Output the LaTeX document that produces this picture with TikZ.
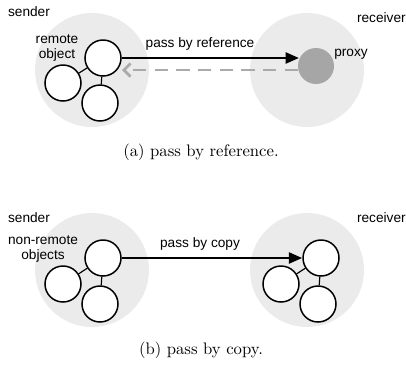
\documentclass[tikz,border=0pt]{standalone}
\usepackage{fontspec}
\newfontfamily\lab{Liberation Sans}
\usetikzlibrary{arrows.meta}
\definecolor{bggray}{HTML}{EBEBEB}
\definecolor{proxygray}{HTML}{A6A6A6}
\definecolor{dashgray}{HTML}{AAAAAA}
\begin{document}
\begin{tikzpicture}[x=0.6pt,y=-0.6pt,
  host/.style={circle,fill=bggray,minimum size=68.4pt,inner sep=0pt},
  obj/.style={circle,draw=black,fill=white,line width=0.9pt,minimum size=21.6pt,inner sep=0pt},
  prx/.style={circle,fill=proxygray,minimum size=21.6pt,inner sep=0pt},
  lbl/.style={font=\lab\fontsize{8.2}{9.5}\selectfont,inner sep=0pt,align=center},
  captext/.style={font=\fontsize{10}{12}\selectfont,inner sep=0pt},
  link/.style={line width=0.7pt},
  pass/.style={line width=1.6pt,-{Triangle[length=8pt,width=6.5pt]}},
  back/.style={dashgray,line width=1.6pt,dash pattern=on 8pt off 5pt,-{Straight Barb[length=4pt,width=8pt]}}]
\useasboundingbox (0,0) rectangle (406,364);
% (a)
\node[host] (sa) at (92,70) {};
\node[host] (ra) at (307,70) {};
\node[lbl] (senda) at (29,12) {sender};
\node[lbl,anchor=east] (recva) at (406,18) {receiver};
\node[obj] (a1) at (103,58) {};
\node[obj] (a2) at (63,83) {};
\node[obj] (a3) at (100,103) {};
\draw[link] (a1) -- (a2);
\draw[link] (a1) -- (a3);
\node[prx] (px) at (316,66) {};
\node[lbl] (remote) at (57,48) {remote\\object};
\node[lbl] (proxyl) at (351,54) {proxy};
\node[lbl] (pbr) at (200,44) {pass by reference};
\coordinate (pxin) at (299,58);
\draw[pass] (a1.east) -- (pxin);
\coordinate (dstart) at (298,70);
\coordinate (dend) at (122,70);
\draw[back] (dstart) -- (dend);
\node[captext] (capa) at (201,152) {(a) pass by reference.};
% (b)
\node[host] (sb) at (92,270) {};
\node[host] (rb) at (307,270) {};
\node[lbl] (sendb) at (29,218) {sender};
\node[lbl,anchor=east] (recvb) at (406,218) {receiver};
\node[obj] (b1) at (103,258) {};
\node[obj] (b2) at (63,284) {};
\node[obj] (b3) at (100,304) {};
\draw[link] (b1) -- (b2);
\draw[link] (b1) -- (b3);
\node[obj] (c1) at (321,258) {};
\node[obj] (c2) at (281,284) {};
\node[obj] (c3) at (318,304) {};
\draw[link] (c1) -- (c2);
\draw[link] (c1) -- (c3);
\node[lbl] (nonremote) at (43,249) {non-remote\\objects};
\node[lbl] (pbc) at (200,244) {pass by copy};
\draw[pass] (b1.east) -- (c1.west);
\node[captext] (capb) at (201,350) {(b) pass by copy.};
\end{tikzpicture}
\end{document}
